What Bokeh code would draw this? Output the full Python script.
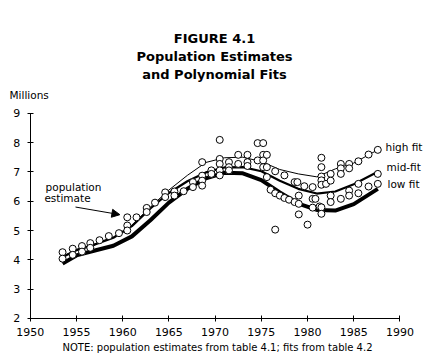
from bokeh.plotting import figure
from bokeh.models import Label, Arrow, NormalHead, FixedTicker, ColumnDataSource
from bokeh.embed import file_html
from bokeh.resources import INLINE

# population estimates (year, millions)
est_years = [1953.5, 1953.5, 1954.6, 1954.6, 1955.6, 1955.6, 1956.5, 1956.5, 1957.5, 1958.5,
             1959.6, 1960.5, 1960.5, 1960.5, 1961.5, 1962.6, 1962.6, 1963.5, 1964.6, 1964.6,
             1965.6, 1965.6, 1966.6, 1967.6, 1967.6, 1968.6, 1968.6, 1968.6, 1968.6, 1969.6,
             1969.6, 1970.5, 1970.5, 1970.5, 1970.5, 1970.5, 1971.5, 1971.5, 1971.5, 1972.5,
             1972.5, 1973.5, 1973.5, 1973.5, 1974.6, 1974.6, 1975.2, 1975.2, 1975.2, 1975.2,
             1975.6, 1975.6, 1975.6, 1976.0, 1976.5, 1976.5, 1976.5, 1977.0, 1977.5, 1977.5,
             1978.0, 1978.6, 1978.6, 1978.9, 1979.05, 1979.05, 1979.05, 1979.65, 1980.0, 1980.55,
             1980.55, 1980.55, 1980.85, 1981.3, 1981.5, 1981.5, 1981.5, 1981.5, 1981.5, 1981.5,
             1981.5, 1982.0, 1982.5, 1982.5, 1982.5, 1982.5, 1983.6, 1983.6, 1983.6, 1983.6,
             1984.5, 1984.5, 1984.5, 1984.5, 1985.5, 1985.5, 1985.5, 1986.6, 1986.6, 1987.6,
             1987.6, 1987.6]
est_values = [4.26, 4.04, 4.38, 4.17, 4.47, 4.28, 4.57, 4.41, 4.67, 4.81,
              4.91, 5.45, 5.17, 5.00, 5.45, 5.77, 5.63, 5.95, 6.30, 6.14,
              6.33, 6.19, 6.34, 6.65, 6.48, 7.33, 6.87, 6.70, 6.53, 7.05,
              6.93, 8.09, 7.44, 7.27, 7.05, 6.88, 7.33, 7.16, 7.05, 7.58,
              7.27, 7.58, 7.33, 7.20, 7.98, 7.39, 7.98, 7.58, 7.39, 7.16,
              7.58, 7.16, 6.82, 6.39, 7.02, 6.27, 5.03, 6.19, 6.88, 6.11,
              6.05, 6.65, 5.97, 6.65, 6.19, 5.91, 5.55, 6.51, 5.20, 6.48,
              6.08, 5.78, 6.08, 5.82, 7.48, 7.16, 6.84, 6.71, 6.56, 5.79,
              5.57, 6.59, 6.93, 6.70, 6.19, 5.97, 7.27, 7.12, 6.93, 6.08,
              7.27, 7.12, 6.36, 6.19, 7.36, 6.59, 6.27, 7.59, 6.50, 7.75,
              6.93, 6.59]

# polynomial fits
fit_years = [1953.5, 1955, 1957, 1959, 1961, 1963, 1965, 1967, 1969, 1971,
             1973, 1975, 1977, 1979, 1981, 1983, 1985, 1987.6]
high_fit = [4.12, 4.35, 4.55, 4.78, 5.18, 5.80, 6.38, 6.88, 7.32, 7.48,
            7.50, 7.35, 7.08, 6.93, 6.83, 7.10, 7.30, 7.75]
mid_fit = [4.10, 4.33, 4.52, 4.75, 5.15, 5.75, 6.28, 6.68, 6.98, 7.15,
           7.16, 7.02, 6.70, 6.42, 6.26, 6.33, 6.58, 7.00]
low_fit = [3.87, 4.15, 4.32, 4.48, 4.80, 5.35, 5.95, 6.42, 6.78, 6.97,
           6.95, 6.72, 6.30, 5.92, 5.70, 5.68, 5.90, 6.42]

x_ticks = [1950, 1955, 1960, 1965, 1970, 1975, 1980, 1985, 1990]
y_ticks = [2, 3, 4, 5, 6, 7, 8, 9]

title_lines = ["FIGURE 4.1", "Population Estimates", "and Polynomial Fits"]
note_text = "NOTE: population estimates from table 4.1; fits from table 4.2"

FONT = "DejaVu Sans"

# the frame covers the whole canvas; axes are pinned at 1950 / 2
p = figure(frame_width=428, frame_height=355,
           x_range=(1946.787, 1993.083), y_range=(0.7385, 12.842),
           output_backend="svg", toolbar_location=None,
           min_border_left=0, min_border_right=0, min_border_top=0, min_border_bottom=0)
p.outline_line_color = None
p.xgrid.visible = False
p.ygrid.visible = False
p.background_fill_color = "white"
p.border_fill_color = "white"

p.xaxis.fixed_location = 2
p.yaxis.fixed_location = 1950
p.xaxis.bounds = (1950, 1990)
p.yaxis.bounds = (2, 9)

for ax in (p.xaxis[0], p.yaxis[0]):
    ax.axis_line_color = "black"
    ax.major_tick_line_color = "black"
    ax.major_tick_in = 3
    ax.major_tick_out = 3
    ax.minor_tick_line_color = None
    ax.major_label_text_font = FONT
    ax.major_label_text_font_size = "11px"
    ax.major_label_text_color = "black"
    ax.major_label_standoff = 7
p.xaxis.ticker = FixedTicker(ticks=x_ticks)
p.yaxis.ticker = FixedTicker(ticks=y_ticks)

src_fit = ColumnDataSource(dict(x=fit_years, high=high_fit, mid=mid_fit, low=low_fit))
p.line("x", "high", source=src_fit, line_color="black", line_width=1)
p.line("x", "mid", source=src_fit, line_color="black", line_width=2.2)
p.line("x", "low", source=src_fit, line_color="black", line_width=4)

p.scatter(est_years, est_values, marker="circle", size=7, fill_color="white",
          line_color="black", line_width=1)

# arrow pointing at the estimates
p.add_layout(Arrow(end=NormalHead(size=8, fill_color="black", line_color="black"),
                   x_start=1954.9, y_start=5.80, x_end=1959.7, y_end=5.54,
                   line_color="black", line_width=1))

def lab(text, x, y, size="11px", bold=False, align="left"):
    # screen units relative to the frame's bottom-left corner
    p.add_layout(Label(x=x, y=y, x_units="screen", y_units="screen", text=text,
                       text_font=FONT, text_font_size=size,
                       text_font_style="bold" if bold else "normal",
                       text_align=align, text_baseline="middle", text_color="black"))

lab(title_lines[0], 214, 317, size="13px", bold=True, align="center")
lab(title_lines[1], 214, 299, size="13px", bold=True, align="center")
lab(title_lines[2], 214, 281, size="13px", bold=True, align="center")
lab("Millions", 9, 261, size="10.5px")
lab("population", 73, 169, size="10.5px", align="center")
lab("estimate", 67, 158, size="10.5px", align="center")
lab("high fit", 385, 209, size="10.5px")
lab("mid-fit", 386, 189, size="10.5px")
lab("low fit", 387, 172, size="10.5px")
lab(note_text, 217, 8, size="10px", align="center")

open("out.html", "w").write(file_html(p, INLINE))
